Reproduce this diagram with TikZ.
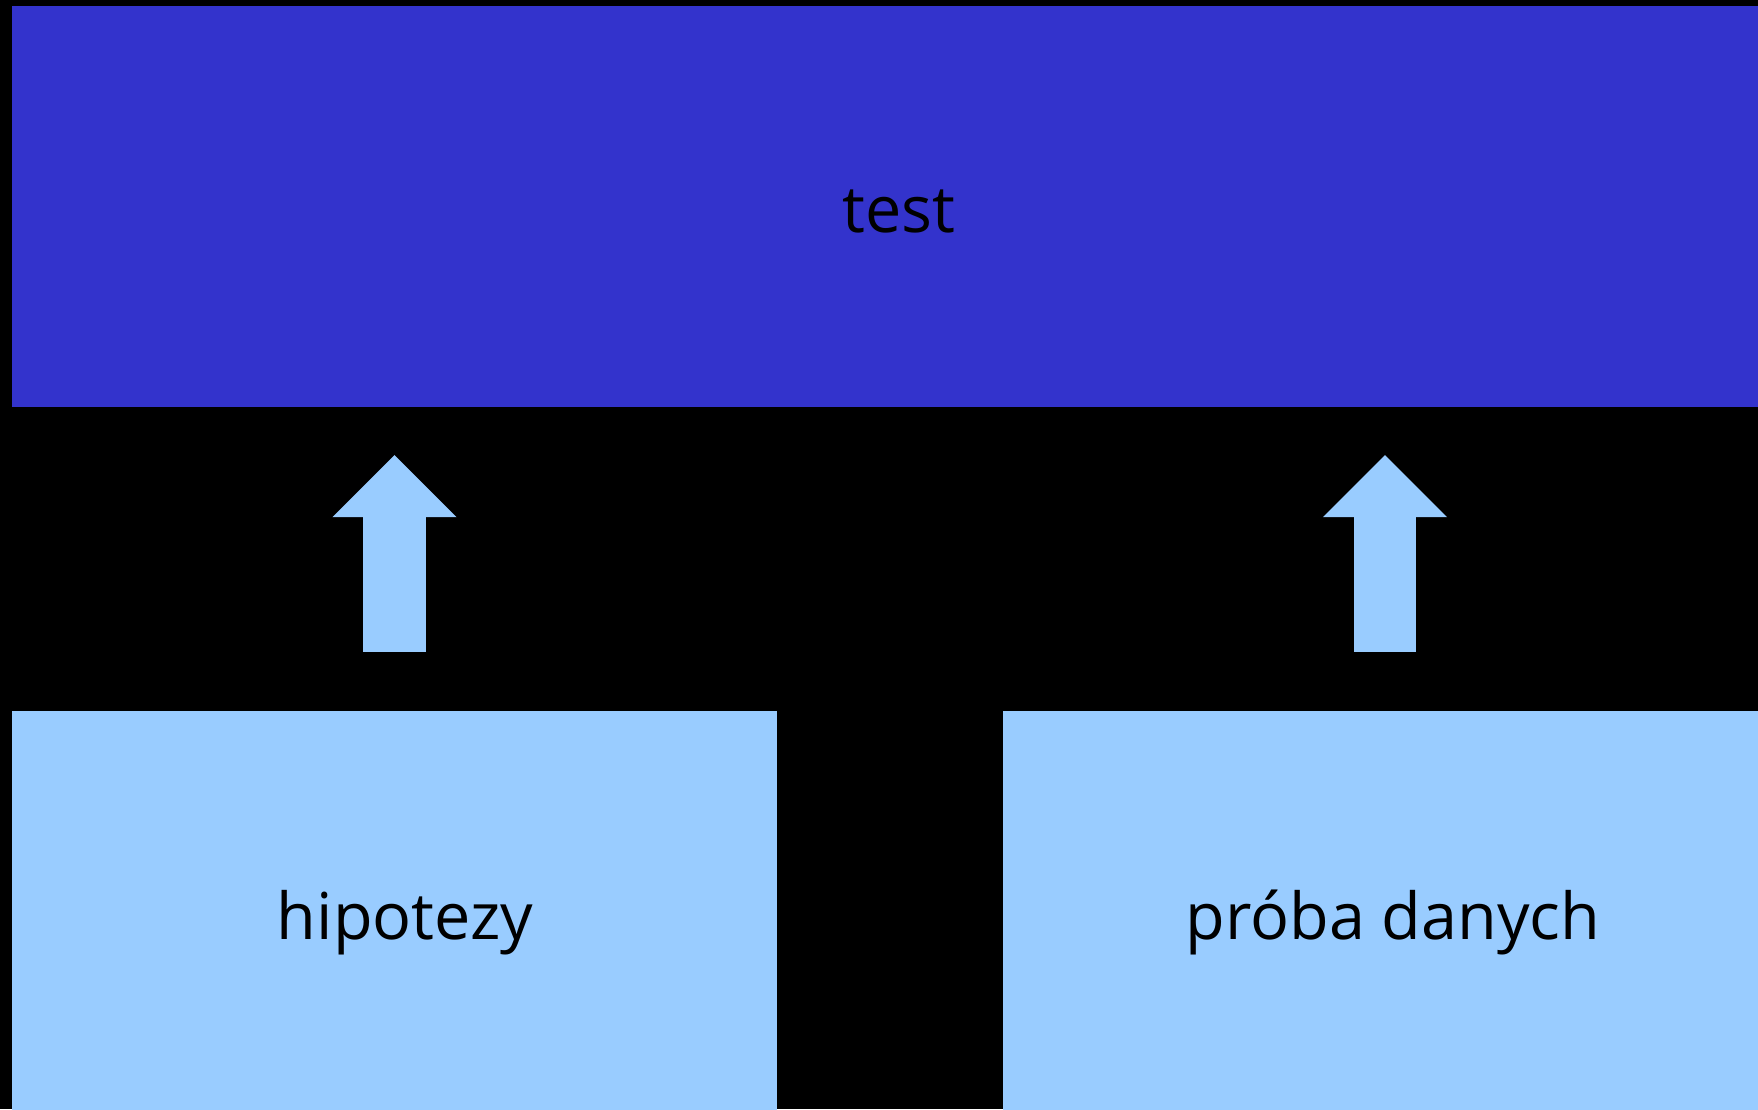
\documentclass[tikz,border=0pt]{standalone}
\usepackage{fontspec}
\setmainfont{Open Sans}
\usetikzlibrary{arrows.meta}

\definecolor{testblue}{HTML}{3333CC}
\definecolor{inputblue}{HTML}{99CCFF}

\tikzset{
	block/.style={inner sep=0pt, outer sep=0pt, draw=none},
	lbl/.style={inner sep=0pt, anchor=base, text=black, font=\fontsize{18.4pt}{22pt}\selectfont},
	uparrow/.style={inputblue, line width=0.62cm,
		-{Triangle[length=0.62cm, width=1.24cm, line width=0pt]},
		shorten <=0.59cm, shorten >=0.48cm}
}

\begin{document}
\begin{tikzpicture}[x=0.01cm, y=-0.01cm]
	
	% Fondo negro de toda la lámina
	\useasboundingbox (0,0) rectangle (1758,1109);
	\fill[black] (0,0) rectangle (1758,1109);
	
	% Bloques: test arriba, entradas abajo
	\begin{scope}
		\clip (0,0) rectangle (1758,1109);
		\node[block, fill=testblue, minimum width=17.57cm, minimum height=4.01cm] (test) at (891.5,206.5) {};
		\node[block, fill=inputblue, minimum width=7.65cm, minimum height=4.09cm] (hip) at (394.5,915.5) {};
		\node[block, fill=inputblue, minimum width=7.64cm, minimum height=4.09cm] (proba) at (1385,915.5) {};
	\end{scope}
	
	% Textos
	\node[lbl] (testtxt) at (899,232) {test};
	\node[lbl] (hiptxt) at (405,939) {hipotezy};
	\node[lbl] (probatxt) at (1393,939) {próba danych};
	
	% Flechas hacia arriba
	\draw[uparrow] (hip.north) -- (hip.north |- test.south);
	\draw[uparrow] (proba.north) -- (proba.north |- test.south);
	
\end{tikzpicture}
\end{document}
